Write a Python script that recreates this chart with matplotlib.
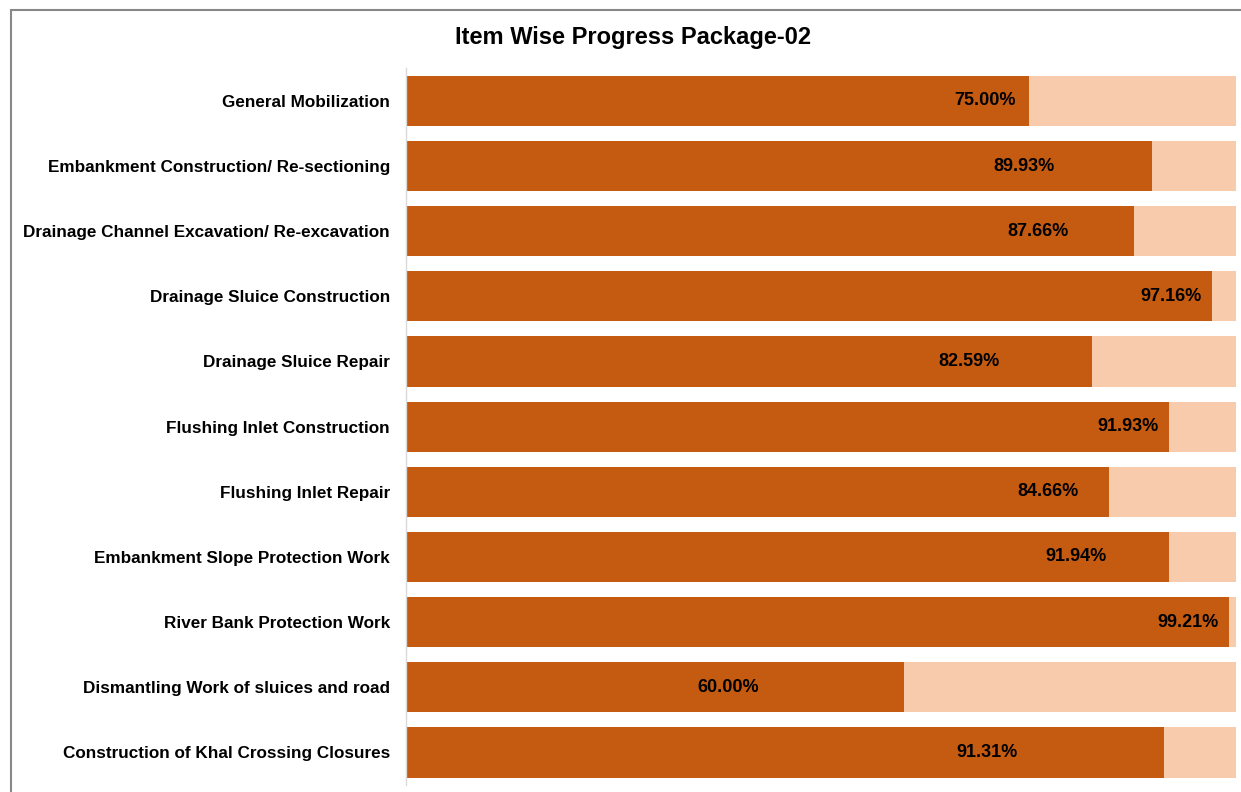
import matplotlib.pyplot as plt
from matplotlib.patches import Rectangle

plt.rcParams['font.family'] = ['Liberation Sans', 'DejaVu Sans']

items = [
    "General Mobilization",
    "Embankment Construction/ Re-sectioning",
    "Drainage Channel Excavation/ Re-excavation",
    "Drainage Sluice Construction",
    "Drainage Sluice Repair",
    "Flushing Inlet Construction",
    "Flushing Inlet Repair",
    "Embankment Slope Protection Work",
    "River Bank Protection Work",
    "Dismantling Work of sluices and road",
    "Construction of Khal Crossing Closures",
]
progress = [75.00, 89.93, 87.66, 97.16, 82.59, 91.93, 84.66, 91.94, 99.21, 60.00, 91.31]
remaining = [100 - p for p in progress]

# where excel left each data label (x centre, in % units)
label_x = [69.8, 74.4, 76.1, 92.2, 67.8, 87.0, 77.3, 80.7, 94.2, 38.8, 70.0]

dark = "#C55A11"
light = "#F8CBAD"

fig = plt.figure(figsize=(12.41, 7.92), dpi=100)
ax = fig.add_axes([0.3272, 0.0088, 0.6688, 0.905])

y = list(range(len(items)))
ax.barh(y, progress, height=0.77, color=dark)
ax.barh(y, remaining, left=progress, height=0.77, color=light)

for i in y:
    ax.text(label_x[i], i, f"{progress[i]:.2f}%", ha="center", va="center",
            fontsize=13, fontweight="bold", color="black")

ax.set_xlim(0, 100)
ax.set_ylim(len(items) - 0.5, -0.5)
ax.set_yticks(y)
ax.set_yticklabels(items, fontsize=12.35, fontweight="bold")
ax.tick_params(axis="y", length=0, pad=11.5)
ax.set_xticks([])
for s in ["top", "right", "bottom"]:
    ax.spines[s].set_visible(False)
ax.spines["left"].set_color("#D9D9D9")
ax.spines["left"].set_linewidth(1)

fig.text(0.51, 0.953, "Item Wise Progress Package-02", ha="center", va="center",
         fontsize=17, fontweight="bold")

# chart frame
fig.patches.append(Rectangle((11 / 1241, -0.1), 1.2, 1 - 9.5 / 792 + 0.1,
                             transform=fig.transFigure, fill=False,
                             edgecolor="#888888", linewidth=1.5))

fig.savefig("out.png", dpi=100)
